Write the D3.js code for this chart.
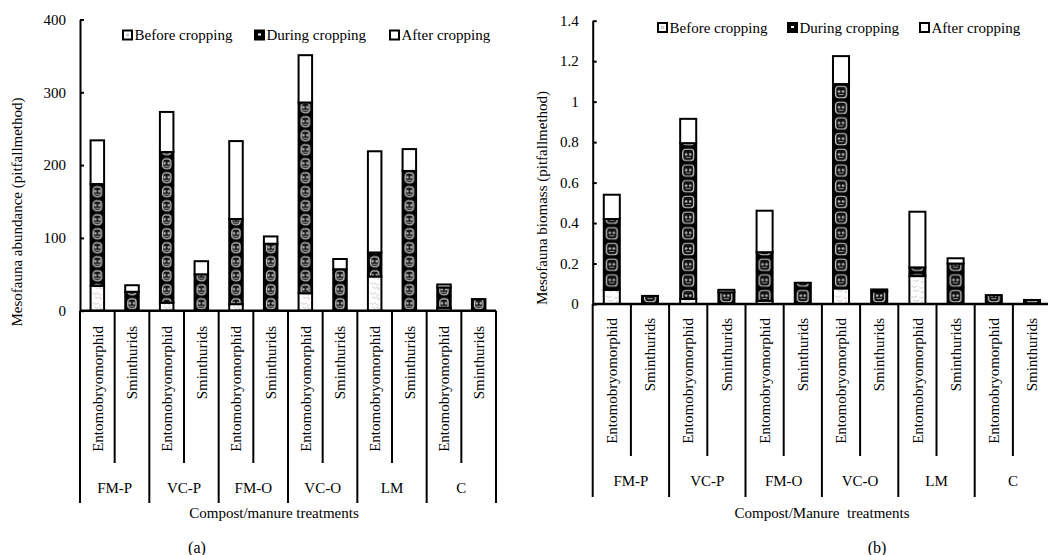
<!DOCTYPE html>
<html>
<head>
<meta charset="utf-8">
<script src="https://cdn.jsdelivr.net/npm/d3@7"></script>
<style>
  body { margin: 0; background: #fff; }
  svg { display: block; font-family: "Liberation Serif", "Times New Roman", serif; }
  text { fill: #000; }
</style>
</head>
<body>
<svg id="fig" width="1048" height="555"></svg>
<script>
// categories
var groups = ["FM-P", "VC-P", "FM-O", "VC-O", "LM", "C"];
var taxa = ["Entomobryomorphid", "Sminthurids"];
var seriesNames = ["Before cropping", "During cropping", "After cropping"];

// (a) abundance, one value per bar (group x taxon)
var abBefore = [34, 0, 11, 0, 9, 0, 24, 0, 47, 0, 4, 0];
var abDuring = [140, 26, 207, 50, 117, 92, 262, 57, 33, 192, 28, 16];
var abAfter = [60, 9, 55, 18, 107, 10, 65, 14, 139, 30, 4, 0];
var abTicks = [0, 100, 200, 300, 400];

// (b) biomass
var bmBefore = [0.07, 0, 0.025, 0, 0.016, 0, 0.077, 0, 0.138, 0, 0, 0];
var bmDuring = [0.35, 0.04, 0.77, 0.058, 0.24, 0.105, 1.01, 0.062, 0.043, 0.2, 0.044, 0.02];
var bmAfter = [0.12, 0, 0.12, 0.012, 0.205, 0, 0.138, 0.01, 0.275, 0.026, 0, 0];
var bmTicks = [0, 0.2, 0.4, 0.6, 0.8, 1, 1.2, 1.4];

var svg = d3.select('#fig');
svg.append('rect').attr('width', 1048).attr('height', 555).attr('fill', '#fff');
var defs = svg.append('defs');

// build rows from arrays
function makeRows(b, d, a) {
    var rows = [];
    groups.forEach(function (g, gi) {
        taxa.forEach(function (t, ti) {
            var i = gi * 2 + ti;
            rows.push({ key: g + '|' + t, group: g, taxon: t, before: b[i], during: d[i], after: a[i] });
        });
    });
    return rows;
}

function makePatterns(id, x, y, step, bw, tile) {
    // during cropping: dark cells
    var p = defs.append('pattern').attr('id', 'dur' + id).attr('patternUnits', 'userSpaceOnUse')
        .attr('x', x).attr('y', y).attr('width', step).attr('height', tile);
    p.append('rect').attr('width', step).attr('height', tile).attr('fill', '#000');
    p.append('rect').attr('x', 2.6).attr('y', 2.2).attr('width', bw - 5.2).attr('height', tile - 4.4)
        .attr('rx', 3).attr('fill', '#111').attr('stroke', '#cfcfcf').attr('stroke-width', 1.2);
    p.append('circle').attr('cx', bw / 2 - 2).attr('cy', tile / 2 - 0.5).attr('r', 1.3).attr('fill', '#bbb');
    p.append('circle').attr('cx', bw / 2 + 2).attr('cy', tile / 2 - 0.5).attr('r', 1.3).attr('fill', '#bbb');
    p.append('rect').attr('x', bw / 2 - 2.5).attr('y', tile / 2 + 2).attr('width', 5).attr('height', 1).attr('fill', '#999');

    // before cropping: pale speckles
    var q = defs.append('pattern').attr('id', 'bef' + id).attr('patternUnits', 'userSpaceOnUse')
        .attr('x', x).attr('y', y).attr('width', step).attr('height', 10);
    q.append('rect').attr('width', step).attr('height', 10).attr('fill', '#fff');
    q.append('path').attr('d', 'M2,2 q3,3 6,0 M4,6 q3,3 6,0 M' + (bw - 6) + ',3 q2,3 4,0')
        .attr('fill', 'none').attr('stroke', '#cfc6cc').attr('stroke-width', 0.9);
    q.append('circle').attr('cx', bw - 3).attr('cy', 8).attr('r', 0.9).attr('fill', '#d9b8d9');
}

function drawChart(cfg) {
    var rows = makeRows(cfg.before, cfg.during, cfg.after);
    var g = svg.append('g');

    var x = d3.scaleBand().domain(rows.map(function (r) { return r.key; }))
        .range([cfg.x0, cfg.x1]).paddingInner(0).paddingOuter(0);
    var y = d3.scaleLinear().domain([0, cfg.ticks[cfg.ticks.length - 1]]).range([cfg.y0, cfg.yTop]);
    var step = x.step();
    var bw = step * cfg.barRatio;
    var off = (step - bw) / 2;

    makePatterns(cfg.id, cfg.x0 + off, cfg.y0, step, bw, cfg.tile);

    var stack = d3.stack().keys(['before', 'during', 'after'])(rows);
    var fills = ['url(#bef' + cfg.id + ')', 'url(#dur' + cfg.id + ')', '#fff'];

    g.selectAll('g.layer').data(stack).enter().append('g').attr('class', 'layer')
        .attr('fill', function (d, i) { return fills[i]; })
        .selectAll('rect').data(function (d) { return d.filter(function (s) { return s[1] - s[0] > 0; }); })
        .enter().append('rect')
        .attr('x', function (d) { return x(d.data.key) + off; })
        .attr('y', function (d) { return y(d[1]); })
        .attr('width', bw)
        .attr('height', function (d) { return y(d[0]) - y(d[1]); })
        .attr('stroke', '#000').attr('stroke-width', 2);

    // y axis
    var yAxis = d3.axisLeft(y).tickValues(cfg.ticks).tickSizeInner(-4).tickSizeOuter(0).tickPadding(14)
        .tickFormat(d3.format('~g'));
    var ya = g.append('g').attr('transform', 'translate(' + cfg.x0 + ',0)').call(yAxis);
    ya.select('.domain').attr('stroke', '#000').attr('stroke-width', 2);
    ya.selectAll('.tick line').attr('stroke', '#000').attr('stroke-width', 2);
    ya.selectAll('.tick text').attr('font-size', 15).attr('font-family', null);
    ya.attr('font-family', null);

    // x axis line and category separators
    g.append('line').attr('x1', cfg.x0).attr('x2', cfg.x1).attr('y1', cfg.y0).attr('y2', cfg.y0)
        .attr('stroke', '#000').attr('stroke-width', 2.4);
    var bounds = d3.range(rows.length + 1);
    g.selectAll('line.sep').data(bounds).enter().append('line').attr('class', 'sep')
        .attr('x1', function (i) { return cfg.x0 + i * step; })
        .attr('x2', function (i) { return cfg.x0 + i * step; })
        .attr('y1', cfg.y0)
        .attr('y2', function (i) { return i % 2 === 0 ? cfg.groupBottom : cfg.taxonBottom; })
        .attr('stroke', '#000').attr('stroke-width', 2);

    // taxon labels
    g.selectAll('text.taxon').data(rows).enter().append('text').attr('class', 'taxon')
        .attr('transform', function (d) {
            return 'translate(' + (x(d.key) + step / 2) + ',' + cfg.labelTop + ') rotate(-90)';
        })
        .attr('dy', '0.35em').attr('text-anchor', 'end').attr('font-size', 15)
        .text(function (d) { return d.taxon; });

    // group labels
    g.selectAll('text.group').data(groups).enter().append('text').attr('class', 'group')
        .attr('x', function (d, i) { return cfg.x0 + (2 * i + 1) * step; })
        .attr('y', cfg.groupY).attr('text-anchor', 'middle').attr('font-size', 15)
        .text(function (d) { return d; });

    // titles
    g.append('text').attr('x', cfg.xTitleX).attr('y', cfg.xTitleY).attr('text-anchor', 'middle')
        .attr('font-size', 15).style('white-space', 'pre').text(cfg.xTitle);
    g.append('text').attr('transform', 'translate(' + cfg.yTitleX + ',' + cfg.yTitleY + ') rotate(-90)')
        .attr('text-anchor', 'middle').attr('dy', '0.35em').attr('font-size', 15).text(cfg.yTitle);
    g.append('text').attr('x', cfg.capX).attr('y', 553).attr('text-anchor', 'middle')
        .attr('font-size', 16).text(cfg.caption);

    // legend
    var lg = g.selectAll('g.leg').data(seriesNames).enter().append('g').attr('class', 'leg')
        .attr('transform', function (d, i) { return 'translate(' + cfg.legX[i] + ',' + cfg.legY + ')'; });
    lg.append('rect').attr('x', 0).attr('y', -4.5).attr('width', 9).attr('height', 9)
        .attr('fill', function (d, i) { return i === 1 ? '#000' : '#fff'; })
        .attr('stroke', '#000').attr('stroke-width', 2);
    lg.filter(function (d, i) { return i === 1; }).append('rect')
        .attr('x', 3).attr('y', -1.5).attr('width', 3).attr('height', 2).attr('fill', '#fff');
    lg.filter(function (d, i) { return i === 0; }).append('rect')
        .attr('x', 3).attr('y', -1.5).attr('width', 3).attr('height', 3).attr('fill', '#ccc');
    lg.append('text').attr('x', 11.5).attr('dy', '0.35em').attr('font-size', 15)
        .text(function (d) { return d; });
}

drawChart({
    id: 'a', before: abBefore, during: abDuring, after: abAfter, ticks: abTicks,
    x0: 80, x1: 496, y0: 310.7, yTop: 19.5, barRatio: 0.39, tile: 14,
    taxonBottom: 463, groupBottom: 503, labelTop: 326, groupY: 493,
    xTitle: 'Compost/manure treatments', xTitleX: 274, xTitleY: 518,
    yTitle: 'Mesofauna abundance (pitfallmethod)', yTitleX: 17, yTitleY: 212,
    caption: '(a)', capX: 197,
    legX: [123, 255, 390], legY: 35
});

drawChart({
    id: 'b', before: bmBefore, during: bmDuring, after: bmAfter, ticks: bmTicks,
    x0: 592.7, x1: 1051.1, y0: 304, yTop: 20.7, barRatio: 0.42, tile: 15.7,
    taxonBottom: 456, groupBottom: 497, labelTop: 318, groupY: 486,
    xTitle: 'Compost/Manure  treatments', xTitleX: 822, xTitleY: 518,
    yTitle: 'Mesofauna biomass (pitfallmethod)', yTitleX: 541.7, yTitleY: 198,
    caption: '(b)', capX: 877,
    legX: [658, 788, 920], legY: 27.5
});
</script>
</body>
</html>
